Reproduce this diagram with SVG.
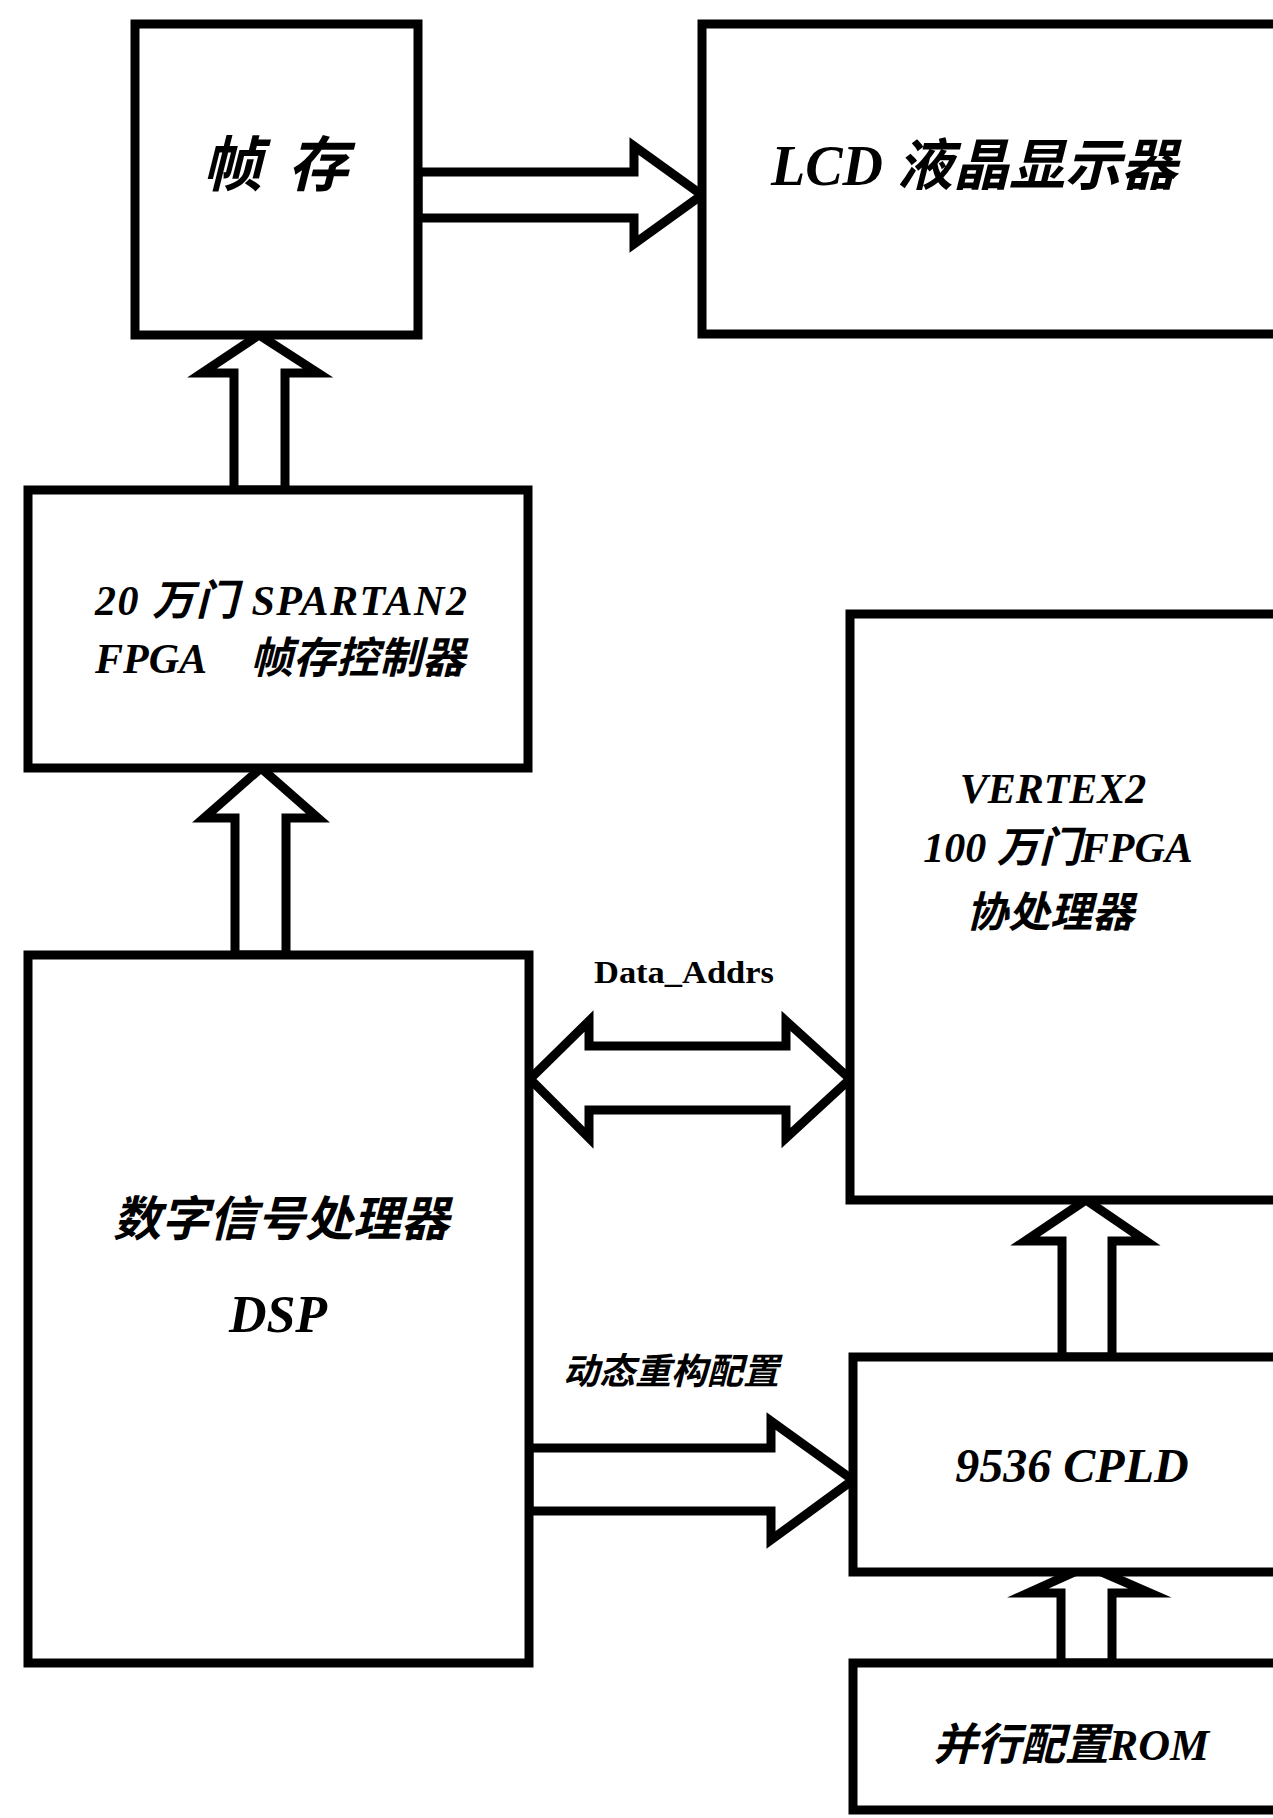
<svg xmlns="http://www.w3.org/2000/svg" width="1273" height="1818" viewBox="0 0 1273 1818">
<style>
.box{fill:#fff;stroke:#000;stroke-width:9;stroke-linejoin:miter}
.arr{fill:#fff;stroke:#000;stroke-width:9;stroke-linejoin:miter;stroke-miterlimit:10}
.t{font-family:"Liberation Serif","Noto Sans CJK SC",serif;font-weight:bold;font-style:italic;fill:#000}
.lbl{font-family:"Liberation Serif","Noto Sans CJK SC",serif;font-weight:bold;fill:#000}
</style>
<rect width="1273" height="1818" fill="#fff"/>
<g id="connectors">
<polygon class="arr" points="418,172 634,172 634,146 702,195 634,244 634,218 418,218"/>
<polygon class="arr" points="234,490 234,373 202,373 259,335 318,373 285,373 285,490"/>
<polygon class="arr" points="235,955 235,818 204,818 261,768 318,818 286,818 286,955"/>
<polygon class="arr" points="530,1079 589,1021 589,1046 786,1046 786,1021 850,1079 786,1138 786,1110 589,1110 589,1138"/>
<polygon class="arr" points="529,1448 771,1448 771,1421 853,1480 771,1540 771,1511 529,1511"/>
<polygon class="arr" points="1062,1357 1062,1241 1025,1241 1086,1200 1146,1241 1112,1241 1112,1357"/>
<polygon class="arr" points="1061,1663 1061,1593 1028,1593 1088,1566 1150,1593 1112,1593 1112,1663"/>
<text class="lbl" x="594" y="983" font-size="32" textLength="180" lengthAdjust="spacingAndGlyphs">Data_Addrs</text>
<text class="t" x="563" y="1384" font-size="36">动态重构配置</text>
</g>
<g id="frame-buffer">
<rect class="box" x="135" y="24" width="283" height="311"/>
<text class="t" x="202" y="186" font-size="60" textLength="146" lengthAdjust="spacing">帧 存</text>
</g>
<g id="lcd">
<rect class="box" x="702" y="24" width="600" height="310"/>
<text class="t" x="771" y="185" font-size="56">LCD 液晶显示器</text>
</g>
<g id="spartan">
<rect class="box" x="28" y="490" width="500" height="278"/>
<text class="t" font-size="42"><tspan x="95" y="615" textLength="372" lengthAdjust="spacing">20 万门 SPARTAN2</tspan><tspan x="95" y="673">FPGA</tspan><tspan x="250" y="673" font-size="43">帧存控制器</tspan></text>
</g>
<g id="dsp">
<rect class="box" x="28" y="955" width="501" height="708"/>
<text class="t" x="281" y="1236" font-size="48" text-anchor="middle">数字信号处理器</text>
<text class="t" x="278" y="1332" font-size="52" text-anchor="middle">DSP</text>
</g>
<g id="vertex">
<rect class="box" x="850" y="614" width="450" height="586"/>
<text class="t" font-size="42" text-anchor="middle"><tspan x="1053" y="803">VERTEX2</tspan><tspan x="1058" y="862">100 万门FPGA</tspan><tspan x="1050" y="927">协处理器</tspan></text>
</g>
<g id="cpld">
<rect class="box" x="853" y="1357" width="450" height="215"/>
<text class="t" x="1072" y="1482" font-size="48" text-anchor="middle">9536 CPLD</text>
</g>
<g id="rom">
<rect class="box" x="853" y="1663" width="450" height="147"/>
<text class="t" x="1071" y="1760" font-size="44" text-anchor="middle">并行配置ROM</text>
</g>
</svg>
